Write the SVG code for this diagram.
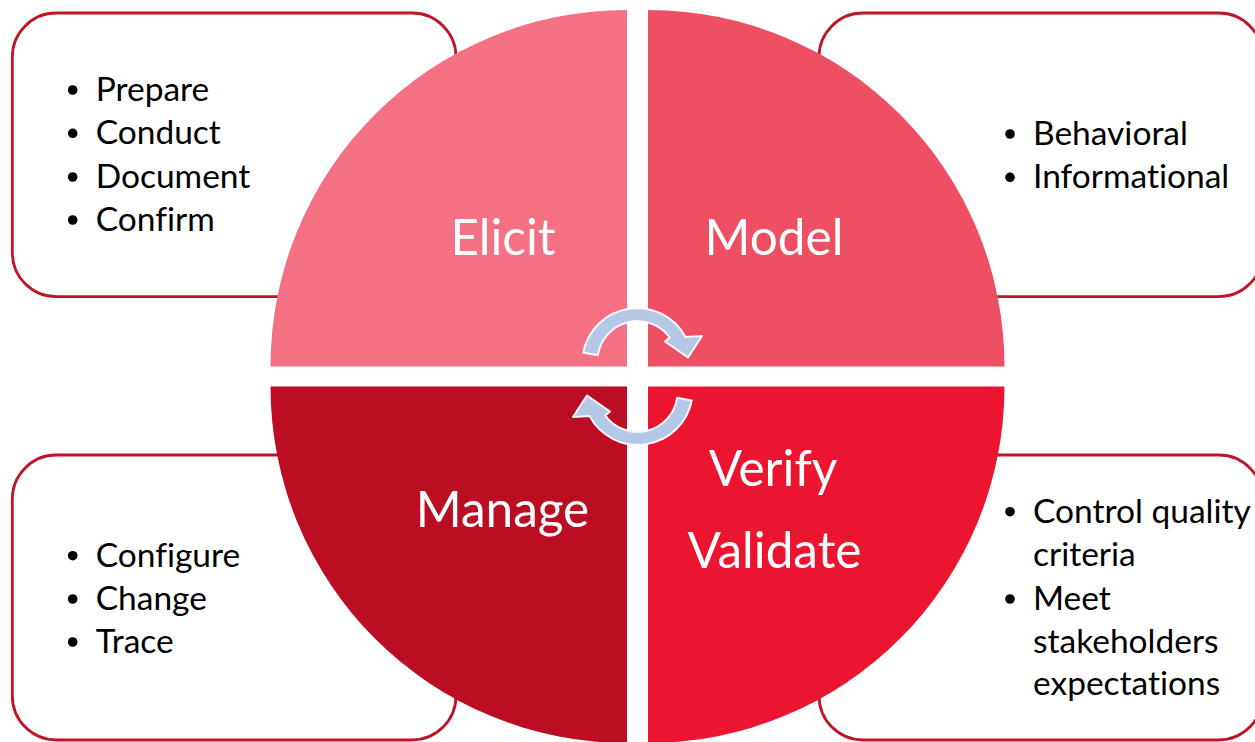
<svg xmlns="http://www.w3.org/2000/svg" width="1255" height="742" viewBox="0 0 1255 742">
  <defs>
    <style>
      .box { fill: #ffffff; stroke: #BE1527; stroke-width: 2.8; }
      .item { font-family: Lato, "Liberation Sans", sans-serif; font-size: 33.5px; fill: #000000; font-variant-ligatures: none; }
      .dot { fill: #000000; }
      .label { font-family: Lato, "Liberation Sans", sans-serif; font-size: 49.5px; fill: #ffffff; text-anchor: middle; font-variant-ligatures: none; }
      .cycle { fill: #B4C7E7; stroke: #F4F7FC; stroke-width: 2; stroke-linejoin: round; }
    </style>
    <!-- curved arrow over the upper half of the hub; the lower one is this shape turned half a turn -->
    <path id="cycle-arrow" d="M583.2,352.6 A55,55 0 0 1 685.6,337.1 L702,336 L688,357.5 L665,341.5 L669.8,337.5 A40,40 0 0 0 597.9,355.2 Z"/>
  </defs>

  <!-- side panels with bullet lists -->
  <g id="panel-elicit">
    <rect class="box" x="12.3" y="13" width="443.7" height="283.7" rx="44" ry="44"/>
    <circle class="dot" cx="72.7" cy="90" r="4.8"/>
    <circle class="dot" cx="72.7" cy="133.3" r="4.8"/>
    <circle class="dot" cx="72.7" cy="177" r="4.8"/>
    <circle class="dot" cx="72.7" cy="220" r="4.8"/>
    <text class="item" x="95.7" y="101">Prepare</text>
    <text class="item" x="95.7" y="144.3">Conduct</text>
    <text class="item" x="95.7" y="188">Document</text>
    <text class="item" x="95.7" y="231">Confirm</text>
  </g>

  <g id="panel-model">
    <rect class="box" x="819" y="13" width="443.7" height="283.7" rx="44" ry="44"/>
    <circle class="dot" cx="1010" cy="134" r="4.8"/>
    <circle class="dot" cx="1010" cy="177.3" r="4.8"/>
    <text class="item" x="1033" y="145">Behavioral</text>
    <text class="item" x="1033" y="188.3">Informational</text>
  </g>

  <g id="panel-manage">
    <rect class="box" x="12.3" y="455" width="443.7" height="285" rx="44" ry="44"/>
    <circle class="dot" cx="72.7" cy="555.7" r="4.8"/>
    <circle class="dot" cx="72.7" cy="599" r="4.8"/>
    <circle class="dot" cx="72.7" cy="642" r="4.8"/>
    <text class="item" x="95.7" y="566.7">Configure</text>
    <text class="item" x="95.7" y="610">Change</text>
    <text class="item" x="95.7" y="653">Trace</text>
  </g>

  <g id="panel-verify">
    <rect class="box" x="819" y="455" width="443.7" height="285" rx="44" ry="44"/>
    <circle class="dot" cx="1010" cy="511.7" r="4.8"/>
    <circle class="dot" cx="1010" cy="599" r="4.8"/>
    <text class="item" x="1033" y="522.7">Control quality</text>
    <text class="item" x="1033" y="566">criteria</text>
    <text class="item" x="1033" y="610">Meet</text>
    <text class="item" x="1033" y="652.7">stakeholders</text>
    <text class="item" x="1033" y="695">expectations</text>
  </g>

  <!-- four quarter discs of the cycle -->
  <g id="quadrant-elicit">
    <path d="M627,366.5 L270.5,366.5 A356.5,356.5 0 0 1 627,10 Z" fill="#F37182"/>
    <text class="label" x="503" y="255">Elicit</text>
  </g>
  <g id="quadrant-model">
    <path d="M648,366.5 L648,10 A356.5,356.5 0 0 1 1004.5,366.5 Z" fill="#EF4F63"/>
    <text class="label" x="774" y="255">Model</text>
  </g>
  <g id="quadrant-manage">
    <path d="M627,386.5 L627,743 A356.5,356.5 0 0 1 270.5,386.5 Z" fill="#BB0E22"/>
    <text class="label" x="502.5" y="527">Manage</text>
  </g>
  <g id="quadrant-verify">
    <path d="M648,386.5 L1004.5,386.5 A356.5,356.5 0 0 1 648,743 Z" fill="#EC1530"/>
    <text class="label" x="773" y="486">Verify</text>
    <text class="label" x="774.5" y="568">Validate</text>
  </g>

  <!-- circular arrows in the hub -->
  <g id="connectors">
    <use href="#cycle-arrow" class="cycle"/>
    <use href="#cycle-arrow" class="cycle" transform="rotate(180 637.5 376.5)"/>
  </g>
</svg>
